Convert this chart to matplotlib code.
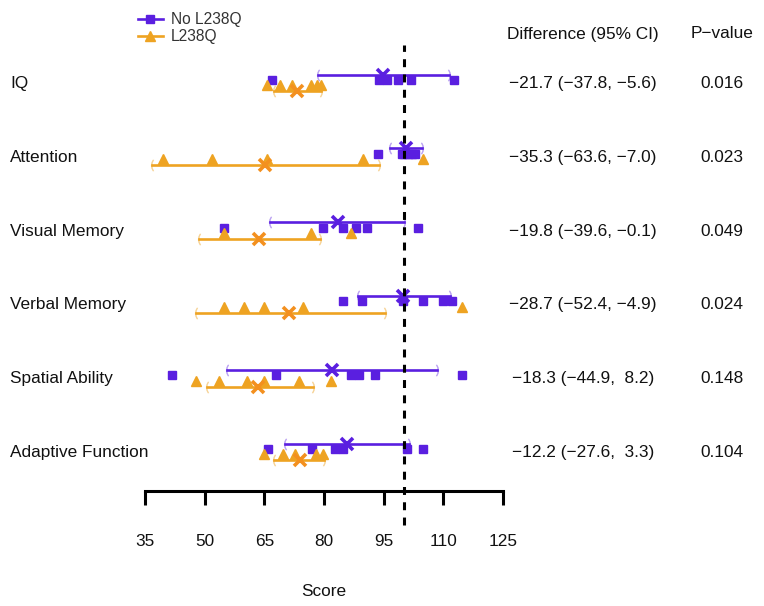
import matplotlib
matplotlib.use("Agg")
import matplotlib.pyplot as plt
from matplotlib.lines import Line2D
import matplotlib.transforms as mtransforms

plt.rcParams['font.family'] = ['Liberation Sans', 'DejaVu Sans']

categories = ["IQ", "Attention", "Visual Memory", "Verbal Memory",
              "Spatial Ability", "Adaptive Function"]

no_pts = [
    [66.9, 93.9, 95.9, 98.7, 101.9, 112.7],
    [93.7, 99.5, 100.2, 101.0, 102.0, 103.0],
    [54.9, 79.8, 84.8, 88.0, 90.9, 103.7],
    [84.7, 89.6, 99.9, 104.9, 110.0, 112.1],
    [41.7, 67.9, 86.7, 88.9, 92.8, 114.8],
    [65.8, 76.9, 82.8, 84.7, 100.8, 105.0],
]
no_mean = [94.9, 100.5, 83.6, 99.9, 81.9, 85.9]
no_lo = [78.6, 96.6, 66.4, 88.6, 55.7, 70.2]
no_hi = [111.4, 104.6, 100.1, 111.7, 108.3, 101.4]

l_pts = [
    [65.6, 68.9, 71.9, 76.7, 78.3, 79.3],
    [39.6, 51.8, 65.6, 89.9, 105.0],
    [54.9, 76.7, 86.8],
    [54.9, 59.9, 64.9, 74.6, 114.8],
    [47.7, 53.7, 60.7, 64.9, 73.8, 81.7],
    [64.9, 69.8, 72.7, 77.9, 79.7],
]
l_mean = [73.1, 65.2, 63.7, 71.3, 63.5, 73.9]
l_lo = [67.4, 36.7, 48.6, 47.8, 50.5, 67.5]
l_hi = [79.2, 93.9, 79.0, 95.3, 77.3, 80.1]

diff_text = ["\u221221.7 (\u221237.8, \u22125.6)",
             "\u221235.3 (\u221263.6, \u22127.0)",
             "\u221219.8 (\u221239.6, \u22120.1)",
             "\u221228.7 (\u221252.4, \u22124.9)",
             "\u221218.3 (\u221244.9,  8.2)",
             "\u221212.2 (\u221227.6,  3.3)"]
p_text = ["0.016", "0.023", "0.049", "0.024", "0.148", "0.104"]

xticks = [35, 50, 65, 80, 95, 110, 125]
ref_line = 100

BLUE = "#5A1FE0"
ORANGE = "#EEA322"
ORANGE_X = "#F3901F"
TXT = "#111111"
FS = 12.4

W, H = 764, 606
fig = plt.figure(figsize=(W / 100, H / 100), dpi=100)
ax = fig.add_axes([145 / W, 115 / H, 358 / W, 491 / H])
ax.set_xlim(35, 125)
ax.set_ylim(5.542, -1.111)

off_bline, off_bpts, off_opts, off_oline = -0.10, -0.027, 0.047, 0.128

for i in range(len(categories)):
    # No L238Q
    yb = i + off_bline
    ax.plot([no_lo[i], no_hi[i]], [yb, yb], color=BLUE, lw=1.9, zorder=3)
    ax.plot([no_lo[i]], [yb], marker='$($', ms=8, color=BLUE, alpha=0.35,
            mew=0.3, zorder=3)
    ax.plot([no_hi[i]], [yb], marker='$)$', ms=8, color=BLUE, alpha=0.35,
            mew=0.3, zorder=3)
    ax.plot(no_pts[i], [i + off_bpts] * len(no_pts[i]), ls='none', marker='s',
            ms=5.5, color=BLUE, zorder=4)
    ax.plot([no_mean[i]], [yb], marker='x', ms=8.5, mew=2.6, color=BLUE, zorder=5)
    # L238Q
    yo = i + off_oline
    ax.plot([l_lo[i], l_hi[i]], [yo, yo], color=ORANGE, lw=1.9, zorder=3)
    ax.plot([l_lo[i]], [yo], marker='$($', ms=8, color=ORANGE, alpha=0.4,
            mew=0.3, zorder=3)
    ax.plot([l_hi[i]], [yo], marker='$)$', ms=8, color=ORANGE, alpha=0.4,
            mew=0.3, zorder=3)
    ax.plot(l_pts[i], [i + off_opts] * len(l_pts[i]), ls='none', marker='^',
            ms=6.8, color=ORANGE, zorder=4)
    ax.plot([l_mean[i]], [yo], marker='x', ms=8.5, mew=2.6, color=ORANGE_X, zorder=5)

ax.axvline(ref_line, ymin=-0.069, ymax=0.908, color='black', lw=2.2,
           ls=(0, (2.6, 2.4)), clip_on=False, zorder=6)

for s in ['top', 'left', 'right']:
    ax.spines[s].set_visible(False)
ax.spines['bottom'].set_linewidth(2.2)
ax.set_yticks([])
ax.set_xticks(xticks)
ax.set_xticklabels([str(t) for t in xticks])
ax.tick_params(axis='x', direction='out', length=10, width=2.2, pad=21,
               labelsize=FS, labelcolor=TXT)
ax.set_xlabel("Score", fontsize=FS, labelpad=25, color=TXT)
ax.patch.set_alpha(0)

tr = mtransforms.blended_transform_factory(fig.transFigure, ax.transData)
for i, c in enumerate(categories):
    ax.text(10 / W, i + 0.02, c, transform=tr, ha='left', va='center',
            fontsize=FS, color=TXT)
    ax.text(583 / W, i + 0.02, diff_text[i], transform=tr, ha='center',
            va='center', fontsize=FS, color=TXT)
    ax.text(722 / W, i + 0.02, p_text[i], transform=tr, ha='center',
            va='center', fontsize=FS, color=TXT)

fig.text(583 / W, 1 - 34 / H, "Difference (95% CI)", ha='center', va='center',
         fontsize=FS, color=TXT)
fig.text(722 / W, 1 - 34 / H, "P\u2212value", ha='center', va='center',
         fontsize=FS, color=TXT)

handles = [Line2D([], [], color=BLUE, lw=1.9, marker='s', ms=5.5),
           Line2D([], [], color=ORANGE, lw=1.9, marker='^', ms=6.8)]
fig.legend(handles, ["No L238Q", "L238Q"], loc='upper left',
           bbox_to_anchor=(138 / W, 1 - 12 / H), frameon=False,
           fontsize=11.2, handlelength=1.6, handletextpad=0.5,
           labelspacing=0.15, borderpad=0, borderaxespad=0,
           labelcolor='#333333')

fig.savefig("out.png", dpi=100)
